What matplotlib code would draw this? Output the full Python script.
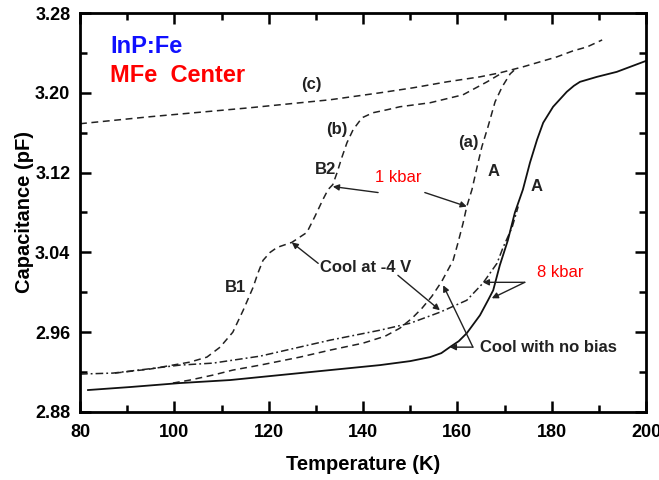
import numpy as np
import matplotlib.pyplot as plt
from matplotlib.ticker import MultipleLocator

plt.rcParams['font.family'] = ['Liberation Sans', 'DejaVu Sans']

# curve (c), dashed
temp_c = [80, 94.8, 116.0, 133.0, 143.6, 150.6, 157.8, 164.8, 169.0, 173.9, 177.5, 181.1, 184.5, 187.5, 190.7]
cap_c = [3.169, 3.176, 3.185, 3.193, 3.200, 3.205, 3.211, 3.216, 3.220, 3.226, 3.231, 3.236, 3.242, 3.246, 3.253]

# curve (b), 1 kbar cooled at -4 V (steps B1, B2)
temp_b = [87.4, 94.8, 103.3, 106.9, 109.7, 112.4, 114.6, 116.7, 117.7, 118.8, 120.3, 121.8, 124.9,
          128.1, 129.8, 131.5, 132.6, 133.6, 134.5, 135.5, 136.6, 137.9, 139.8, 142.1, 145.1, 147.8,
          154.2, 161.2, 166.3, 169.5]
cap_b = [2.919, 2.923, 2.930, 2.935, 2.945, 2.960, 2.982, 3.005, 3.019, 3.032, 3.040, 3.045, 3.050,
         3.060, 3.076, 3.093, 3.103, 3.108, 3.120, 3.135, 3.150, 3.163, 3.175, 3.180, 3.183, 3.186,
         3.190, 3.198, 3.211, 3.220]

# curve (a), 1 kbar cooled with no bias
temp_a = [99.7, 103.3, 108.2, 112.4, 118.2, 126.6, 133.0, 140.0, 144.7, 147.8, 150.4, 152.5, 154.6,
          156.7, 159.1, 160.1, 161.2, 162.0, 163.1, 164.2, 165.2, 166.5, 168.0, 169.5, 171.2, 172.6]
cap_a = [2.909, 2.912, 2.917, 2.922, 2.927, 2.935, 2.942, 2.949, 2.956, 2.964, 2.974, 2.984, 2.996,
         3.011, 3.032, 3.049, 3.069, 3.086, 3.103, 3.126, 3.146, 3.166, 3.191, 3.206, 3.219, 3.225]

# 8 kbar cooled at -4 V, dash-dot
temp_dd = [80, 87.0, 94.2, 101.2, 108.2, 118.2, 133.0, 143.6, 150.0, 156.3, 162.0, 165.4, 168.4,
           169.7, 171.6, 172.9]
cap_dd = [2.918, 2.919, 2.923, 2.927, 2.929, 2.936, 2.952, 2.962, 2.969, 2.980, 2.992, 3.009, 3.029,
          3.045, 3.065, 3.086]

# 8 kbar cooled with no bias, solid
temp_s = [81.7, 90.6, 101.2, 111.8, 122.4, 133.0, 143.6, 150.0, 154.2, 156.6, 158.4, 160.3, 162.0,
          164.8, 166.5, 167.6, 169.0, 170.7, 172.2, 173.9, 175.4, 176.9, 178.2, 180.3, 183.2, 184.7,
          186.0, 189.6, 193.8, 200]
cap_s = [2.902, 2.905, 2.909, 2.912, 2.917, 2.922, 2.927, 2.931, 2.935, 2.939, 2.945, 2.951, 2.959,
         2.977, 2.992, 3.002, 3.027, 3.052, 3.080, 3.103, 3.130, 3.153, 3.170, 3.186, 3.201, 3.207,
         3.211, 3.216, 3.221, 3.232]

fig = plt.figure(figsize=(6.59, 4.80), dpi=100)
ax = fig.add_axes([0.1214, 0.1417, 0.8589, 0.8312])

dash = (4.5, 3)
ax.plot(temp_c, cap_c, color='#222222', lw=1.1, dashes=dash)
ax.plot(temp_b, cap_b, color='#222222', lw=1.1, dashes=dash)
ax.plot(temp_a, cap_a, color='#222222', lw=1.1, dashes=dash)
ax.plot(temp_dd, cap_dd, color='#222222', lw=1.1, dashes=(5, 2, 1.2, 2))
ax.plot(temp_s, cap_s, color='#111111', lw=1.3)

ax.set_xlim(80, 200)
ax.set_ylim(2.88, 3.28)
ax.xaxis.set_major_locator(MultipleLocator(20))
ax.xaxis.set_minor_locator(MultipleLocator(10))
ax.yaxis.set_minor_locator(MultipleLocator(0.04))
ax.set_yticks([2.88, 2.96, 3.04, 3.12, 3.20, 3.28])
ax.set_yticklabels(['2.88', '2.96', '3.04', '3.12', '3.20', '3.28'])
ax.tick_params(which='both', direction='in', top=True, right=True, width=1.8)
ax.tick_params(which='major', length=8, labelsize=13, pad=7)
ax.tick_params(which='minor', length=5)
ax.tick_params(axis='x', which='major', pad=9)
for lab in ax.get_xticklabels() + ax.get_yticklabels():
    lab.set_fontweight('bold')
for sp in ax.spines.values():
    sp.set_linewidth(2)

ax.set_xlabel('Temperature (K)', fontsize=14.5, fontweight='bold', labelpad=10)
ax.set_ylabel('Capacitance (pF)', fontsize=14.5, fontweight='bold', labelpad=1)

# title block
ax.text(86.4, 3.246, 'InP:Fe', color='#1010ff', fontsize=17, fontweight='bold', va='center')
ax.text(86.4, 3.217, 'MFe  Center', color='#ff0000', fontsize=17, fontweight='bold', va='center')

# curve labels
lab_kw = dict(fontsize=12, fontweight='bold', color='#222222', ha='center', va='center')
ax.text(129.0, 3.208, '(c)', **lab_kw)
ax.text(134.5, 3.163, '(b)', **lab_kw)
ax.text(132.0, 3.123, 'B2', **lab_kw)
ax.text(112.9, 3.005, 'B1', **lab_kw)
ax.text(162.3, 3.150, '(a)', **lab_kw)
ax.text(167.6, 3.121, 'A', **lab_kw)
ax.text(176.9, 3.106, 'A', **lab_kw)

ax.text(147.4, 3.115, '1 kbar', fontsize=12, color='red', ha='center', va='center')
ax.text(176.9, 3.020, '8 kbar', fontsize=12, color='red', ha='left', va='center')
ax.text(130.9, 3.025, 'Cool at -4 V', fontsize=12, fontweight='bold', color='#222222', ha='left', va='center')
ax.text(164.8, 2.945, 'Cool with no bias', fontsize=12, fontweight='bold', color='#222222', ha='left', va='center')

# arrows
arr = dict(arrowstyle='-|>', color='#222222', lw=1.0, mutation_scale=9, shrinkA=0, shrinkB=0)
ax.annotate('', xy=(133.6, 3.106), xytext=(143.2, 3.100), arrowprops=arr)
ax.annotate('', xy=(162.0, 3.086), xytext=(153.1, 3.100), arrowprops=arr)
ax.annotate('', xy=(124.9, 3.050), xytext=(130.5, 3.029), arrowprops=arr)
ax.annotate('', xy=(156.3, 2.982), xytext=(147.4, 3.017), arrowprops=arr)
ax.annotate('', xy=(158.4, 2.945), xytext=(163.3, 2.945), arrowprops=arr)
ax.annotate('', xy=(157.0, 3.007), xytext=(163.3, 2.945), arrowprops=arr)
ax.annotate('', xy=(165.4, 3.010), xytext=(174.3, 3.010), arrowprops=arr)
ax.annotate('', xy=(167.3, 2.994), xytext=(174.3, 3.010), arrowprops=arr)

fig.savefig('out.png', dpi=100)
